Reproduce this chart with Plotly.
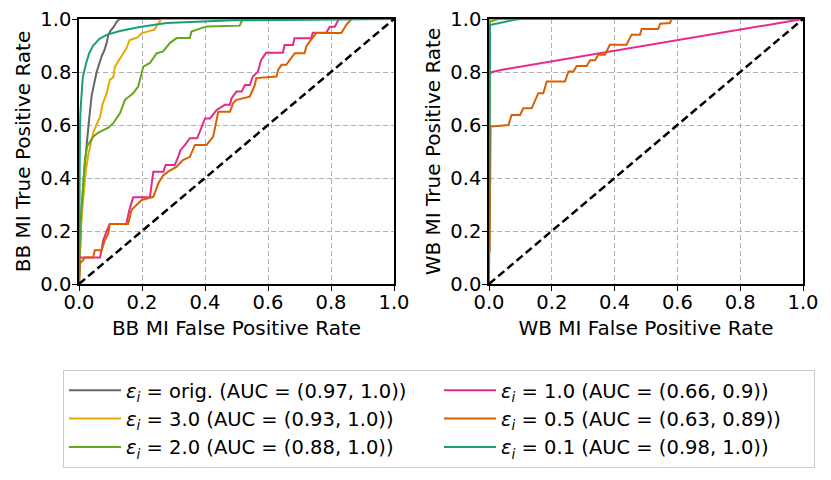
import plotly.graph_objects as go

# ROC points, (fpr, tpr)
bb_orig = [(0, 0), (0.003, 0.15), (0.008, 0.28), (0.016, 0.42), (0.024, 0.53), (0.032, 0.62),
           (0.04, 0.71), (0.048, 0.76), (0.056, 0.80), (0.064, 0.83), (0.072, 0.86), (0.08, 0.88),
           (0.088, 0.91), (0.093, 0.94), (0.1, 0.955), (0.11, 0.97), (0.12, 0.99), (0.128, 1.0), (1, 1)]
bb_eps3 = [(0, 0), (0.005, 0.2), (0.014, 0.33), (0.022, 0.43), (0.03, 0.49), (0.045, 0.57),
           (0.055, 0.6), (0.067, 0.63), (0.075, 0.68), (0.088, 0.72), (0.098, 0.77), (0.109, 0.78),
           (0.114, 0.82), (0.125, 0.84), (0.135, 0.86), (0.151, 0.89), (0.16, 0.92), (0.185, 0.93),
           (0.2, 0.947), (0.24, 0.96), (0.25, 0.98), (0.262, 1.0), (1, 1)]
bb_eps2 = [(0, 0), (0.003, 0.19), (0.008, 0.28), (0.014, 0.39), (0.019, 0.47), (0.026, 0.52),
           (0.045, 0.556), (0.06, 0.57), (0.093, 0.59), (0.109, 0.607), (0.13, 0.644), (0.146, 0.695),
           (0.172, 0.72), (0.188, 0.745), (0.196, 0.78), (0.204, 0.82), (0.225, 0.834), (0.246, 0.87),
           (0.267, 0.878), (0.289, 0.91), (0.31, 0.928), (0.352, 0.928), (0.357, 0.953), (0.405, 0.972),
           (0.51, 0.975), (0.52, 1.0), (1, 1)]
bb_eps1 = [(0, 0), (0, 0.1), (0.067, 0.1), (0.077, 0.165), (0.088, 0.2), (0.098, 0.226), (0.15, 0.226),
           (0.16, 0.28), (0.172, 0.327), (0.225, 0.327), (0.236, 0.424), (0.268, 0.424), (0.275, 0.449),
           (0.304, 0.449), (0.315, 0.48), (0.322, 0.505), (0.336, 0.524), (0.352, 0.55), (0.375, 0.55),
           (0.39, 0.6), (0.4, 0.625), (0.416, 0.625), (0.437, 0.657), (0.463, 0.676), (0.479, 0.676),
           (0.484, 0.70), (0.5, 0.726), (0.516, 0.726), (0.527, 0.751), (0.542, 0.751), (0.552, 0.783),
           (0.568, 0.801), (0.578, 0.845), (0.594, 0.873), (0.647, 0.873), (0.653, 0.902), (0.679, 0.902),
           (0.684, 0.927), (0.737, 0.927), (0.742, 0.948), (0.785, 0.948), (0.796, 0.971), (0.812, 0.971),
           (0.825, 1.0), (1, 1)]
bb_eps05 = [(0, 0), (0.003, 0.077), (0.019, 0.1), (0.045, 0.1), (0.05, 0.127), (0.072, 0.127),
            (0.082, 0.165), (0.093, 0.19), (0.098, 0.226), (0.156, 0.226), (0.167, 0.28), (0.183, 0.298),
            (0.199, 0.317), (0.236, 0.329), (0.252, 0.38), (0.267, 0.41), (0.283, 0.424), (0.31, 0.443),
            (0.33, 0.468), (0.352, 0.48), (0.368, 0.525), (0.405, 0.525), (0.426, 0.556), (0.442, 0.65),
            (0.479, 0.65), (0.489, 0.682), (0.5, 0.695), (0.542, 0.707), (0.558, 0.75), (0.563, 0.777),
            (0.627, 0.783), (0.632, 0.808), (0.643, 0.827), (0.658, 0.827), (0.669, 0.846), (0.685, 0.871),
            (0.716, 0.871), (0.722, 0.897), (0.737, 0.922), (0.753, 0.947), (0.833, 0.947), (0.849, 0.979),
            (0.865, 1.0), (1, 1)]
bb_eps01 = [(0, 0), (0.001, 0.3), (0.003, 0.6), (0.005, 0.66), (0.008, 0.72), (0.012, 0.78),
            (0.022, 0.83), (0.032, 0.87), (0.045, 0.9), (0.065, 0.925), (0.088, 0.94), (0.13, 0.955),
            (0.193, 0.97), (0.278, 0.985), (0.49, 0.995), (1, 1)]

wb_orig = [(0, 0), (0, 1.0), (1, 1)]
wb_eps3 = [(0, 0), (0.001, 0.995), (0.01, 1.0), (1, 1)]
wb_eps2 = [(0, 0), (0.003, 0.99), (0.03, 1.0), (1, 1)]
wb_eps1 = [(0, 0), (0, 0.79), (0.01, 0.80), (0.05, 0.81), (1, 1)]
wb_eps05 = [(0.002, 0.12), (0.005, 0.594), (0.062, 0.60), (0.072, 0.638), (0.099, 0.638), (0.109, 0.663),
            (0.136, 0.663), (0.157, 0.72), (0.173, 0.72), (0.184, 0.764), (0.242, 0.764), (0.253, 0.802),
            (0.269, 0.802), (0.279, 0.823), (0.311, 0.823), (0.322, 0.844), (0.338, 0.844), (0.348, 0.865),
            (0.369, 0.865), (0.385, 0.903), (0.438, 0.903), (0.454, 0.941), (0.481, 0.941), (0.486, 0.962),
            (0.539, 0.962), (0.545, 0.982), (0.576, 0.985), (0.582, 1.0), (1, 1)]
wb_eps01 = [(0, 0), (0.003, 0.977), (0.077, 0.996), (0.1, 1.0), (1, 1)]

labels = ["orig.", "3.0", "2.0", "1.0", "0.5", "0.1"]
auc_bb = ["0.97", "0.93", "0.88", "0.66", "0.63", "0.98"]
auc_wb = ["1.0", "1.0", "1.0", "0.9", "0.89", "1.0"]
colors = ["#666666", "#e6ab02", "#66a61e", "#e7298a", "#d95f02", "#1b9e77"]
# legend is filled row by row in plotly, so rank to get column-major order
ranks = [1, 3, 5, 2, 4, 6]

bb_curves = [bb_orig, bb_eps3, bb_eps2, bb_eps1, bb_eps05, bb_eps01]
wb_curves = [wb_orig, wb_eps3, wb_eps2, wb_eps1, wb_eps05, wb_eps01]

W, H = 831, 480
FONT = "DejaVu Sans"

fig = go.Figure()

for i in range(len(labels)):
    name = "<i>ε<sub>i</sub></i> = %s (AUC = (%s, %s))" % (labels[i], auc_bb[i], auc_wb[i])
    for curve, xa, ya, show in [(bb_curves[i], "x", "y", True), (wb_curves[i], "x2", "y2", False)]:
        fig.add_trace(go.Scatter(
            x=[p[0] for p in curve], y=[p[1] for p in curve],
            mode="lines", line=dict(color=colors[i], width=2),
            name=name, legendgroup=labels[i], showlegend=show, legendrank=ranks[i],
            xaxis=xa, yaxis=ya, hoverinfo="skip"))

# chance line
for xa, ya in [("x", "y"), ("x2", "y2")]:
    fig.add_trace(go.Scatter(x=[0, 1], y=[0, 1], mode="lines",
                             line=dict(color="black", width=2.5, dash="8px,4px"),
                             showlegend=False, xaxis=xa, yaxis=ya, hoverinfo="skip"))

axis_common = dict(
    range=[0, 1], tickvals=[0, 0.2, 0.4, 0.6, 0.8, 1.0], tickformat=".1f",
    showline=True, mirror=True, linecolor="black", linewidth=1.5,
    ticks="outside", ticklen=5, tickwidth=1.3, tickcolor="black",
    showgrid=True, gridcolor="#b0b0b0", griddash="5px,3px", gridwidth=1,
    zeroline=False, automargin=False,
    tickfont=dict(size=19.5, color="black", family=FONT),
)
xaxis_common = dict(axis_common, ticklabelstandoff=-5)
yaxis_common = dict(axis_common, ticklabelstandoff=-3)

y_dom = [1 - 284 / H, 1 - 19 / H]
fig.update_layout(
    width=W, height=H,
    margin=dict(l=0, r=0, t=0, b=0),
    paper_bgcolor="white", plot_bgcolor="white",
    font=dict(family=FONT, color="black"),
    xaxis=dict(xaxis_common, domain=[79 / W, 394 / W],
               title=dict(text="BB MI False Positive Rate", font=dict(size=20), standoff=8)),
    yaxis=dict(yaxis_common, domain=y_dom,
               title=dict(text="BB MI True Positive Rate", font=dict(size=20), standoff=4)),
    xaxis2=dict(xaxis_common, domain=[489 / W, 803 / W], anchor="y2",
                title=dict(text="WB MI False Positive Rate", font=dict(size=20), standoff=8)),
    yaxis2=dict(yaxis_common, domain=y_dom, anchor="x2",
                title=dict(text="WB MI True Positive Rate", font=dict(size=20), standoff=4)),
    legend=dict(
        orientation="h", x=63 / W, y=1 - 370 / H, xanchor="left", yanchor="top",
        entrywidth=308, entrywidthmode="pixels",
        bordercolor="#cccccc", borderwidth=1, bgcolor="white",
        font=dict(size=19.5, family=FONT, color="black"),
        itemwidth=52, traceorder="normal",
    ),
    showlegend=True,
)

# drop the browser's default body margin so the figure sits at the page origin
fig.write_html("out.html", config={"displayModeBar": False},
               post_script="document.body.style.margin='0';")
